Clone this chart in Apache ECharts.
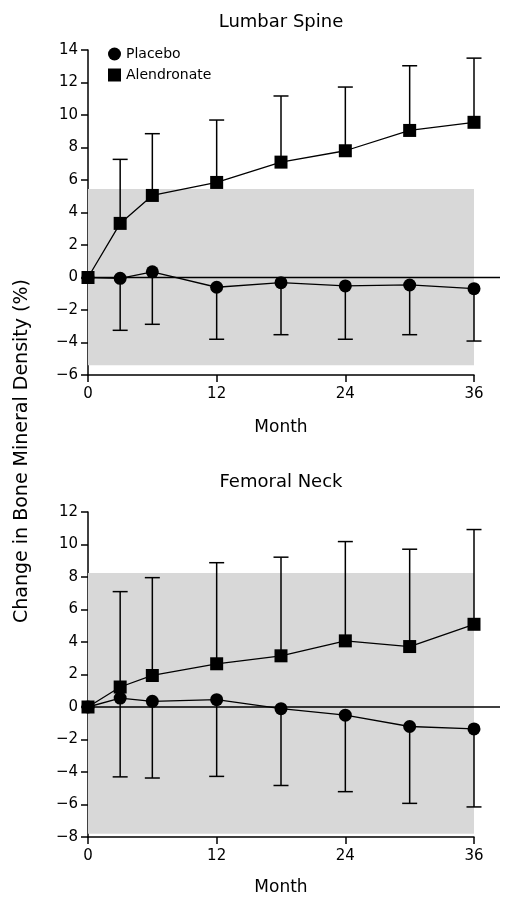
<!DOCTYPE html>
<html>
<head>
<meta charset="utf-8">
<script src="https://cdn.jsdelivr.net/npm/echarts@6/dist/echarts.min.js"></script>
<style>
html,body{margin:0;padding:0;background:#fff;}
#chart{width:508px;height:897px;}
</style>
</head>
<body>
<div id="chart"></div>
<script>
const months = [0, 3, 6, 12, 18, 24, 30, 36];
const xTicks = [0, 12, 24, 36];

const lumbarPlacebo = [0, -0.05, 0.35, -0.6, -0.32, -0.52, -0.46, -0.69];
const lumbarPlaceboLower = [null, -3.25, -2.88, -3.8, -3.52, -3.8, -3.52, -3.91];
const lumbarAlendronate = [0, 3.33, 5.05, 5.85, 7.1, 7.8, 9.05, 9.55];
const lumbarAlendronateUpper = [null, 7.27, 8.85, 9.69, 11.17, 11.72, 13.03, 13.5];

const femoralPlacebo = [0, 0.55, 0.35, 0.45, -0.1, -0.5, -1.2, -1.35];
const femoralPlaceboLower = [null, -4.3, -4.37, -4.27, -4.83, -5.21, -5.93, -6.15];
const femoralAlendronate = [0, 1.23, 1.94, 2.66, 3.15, 4.07, 3.72, 5.09];
const femoralAlendronateUpper = [null, 7.1, 7.96, 8.88, 9.22, 10.18, 9.71, 10.92];

const panelTitles = ['Lumbar Spine', 'Femoral Neck'];
const xAxisName = 'Month';
const yAxisName = 'Change in Bone Mineral Density (%)';
const seriesNames = ['Placebo', 'Alendronate'];

const FONT = 'DejaVu Sans';
const chart = echarts.init(document.getElementById('chart'), null, {renderer: 'canvas'});

function pairs(xs, ys) { return xs.map((x, i) => [x, ys[i]]); }
function errData(xs, ys, ends) {
  const out = [];
  xs.forEach((x, i) => { if (ends[i] !== null) out.push([x, ys[i], ends[i]]); });
  return out;
}
function errorSeries(gi, data) {
  return {
    type: 'custom', xAxisIndex: gi, yAxisIndex: gi, z: 3, silent: true,
    data: data,
    encode: {x: 0, y: [1, 2]},
    renderItem: function (params, api) {
      const p0 = api.coord([api.value(0), api.value(1)]);
      const p1 = api.coord([api.value(0), api.value(2)]);
      const hw = 7.5;
      return {
        type: 'group',
        children: [
          {type: 'line', shape: {x1: p0[0], y1: p0[1], x2: p1[0], y2: p1[1]}, style: {stroke: '#000', lineWidth: 1.5}},
          {type: 'line', shape: {x1: p1[0] - hw, y1: p1[1], x2: p1[0] + hw, y2: p1[1]}, style: {stroke: '#000', lineWidth: 1.5}}
        ]
      };
    }
  };
}
function lineSeries(gi, name, symbol, data, area) {
  const s = {
    type: 'line', name: name, xAxisIndex: gi, yAxisIndex: gi,
    data: data, symbol: symbol, symbolSize: 13, z: 4,
    lineStyle: {color: '#000', width: 1.3},
    itemStyle: {color: '#000'},
    animation: false
  };
  if (area) {
    s.markArea = {
      silent: true,
      itemStyle: {color: '#d8d8d8'},
      data: [[{coord: [0, area[0]]}, {coord: [36, area[1]]}]]
    };
  }
  return s;
}
const axisTextStyle = {color: '#000', fontFamily: FONT, fontSize: 15};
function xAx(gi, gap) {
  return {
    type: 'value', gridIndex: gi, min: 0, max: 36, interval: 12,
    axisLine: {onZero: false, lineStyle: {color: '#000', width: 1.5}},
    axisTick: {length: 7, lineStyle: {color: '#000', width: 1.5}},
    axisLabel: Object.assign({margin: 12}, axisTextStyle),
    splitLine: {show: false},
    name: xAxisName, nameLocation: 'middle', nameGap: gap,
    nameTextStyle: {color: '#000', fontFamily: FONT, fontSize: 17}
  };
}
function yAx(gi, min, max) {
  return {
    type: 'value', gridIndex: gi, min: min, max: max, interval: 2,
    axisLine: {onZero: false, lineStyle: {color: '#000', width: 1.5}},
    axisTick: {length: 7, lineStyle: {color: '#000', width: 1.5}},
    axisLabel: Object.assign({margin: 10, formatter: v => v < 0 ? '\u2212' + (-v) : String(v)}, axisTextStyle),
    splitLine: {show: false}
  };
}

const option = {
  animation: false,
  backgroundColor: '#fff',
  grid: [
    {left: 88, top: 50, width: 386, height: 325},
    {left: 88, top: 512, width: 386, height: 326}
  ],
  xAxis: [xAx(0, 44), xAx(1, 42)],
  yAxis: [yAx(0, -6, 14), yAx(1, -8, 12)],
  legend: {
    left: 103, top: 42, orient: 'vertical', itemGap: 7,
    itemWidth: 13, itemHeight: 13,
    textStyle: {color: '#000', fontFamily: FONT, fontSize: 14},
    data: [{name: seriesNames[0], icon: 'circle'}, {name: seriesNames[1], icon: 'rect'}],
    selectedMode: false
  },
  series: [
    lineSeries(0, seriesNames[0], 'circle', pairs(months, lumbarPlacebo), [-5.4, 5.45]),
    lineSeries(0, seriesNames[1], 'rect', pairs(months, lumbarAlendronate)),
    errorSeries(0, errData(months, lumbarPlacebo, lumbarPlaceboLower)),
    errorSeries(0, errData(months, lumbarAlendronate, lumbarAlendronateUpper)),
    lineSeries(1, seriesNames[0], 'circle', pairs(months, femoralPlacebo), [-7.8, 8.25]),
    lineSeries(1, seriesNames[1], 'rect', pairs(months, femoralAlendronate)),
    errorSeries(1, errData(months, femoralPlacebo, femoralPlaceboLower)),
    errorSeries(1, errData(months, femoralAlendronate, femoralAlendronateUpper))
  ]
};
chart.setOption(option);

// Reference elements placed from the axes' own scales
const z0 = chart.convertToPixel({gridIndex: 0}, [0, 0]);
const z1 = chart.convertToPixel({gridIndex: 1}, [0, 0]);
const c0 = chart.convertToPixel({gridIndex: 0}, [18, 14]);
const c1 = chart.convertToPixel({gridIndex: 1}, [18, 12]);
chart.setOption({
  graphic: [
    {type: 'line', z: 5, shape: {x1: z0[0], y1: z0[1], x2: 500, y2: z0[1]}, style: {stroke: '#000', lineWidth: 1.5}},
    {type: 'line', z: 5, shape: {x1: z1[0], y1: z1[1], x2: 500, y2: z1[1]}, style: {stroke: '#000', lineWidth: 1.5}},
    {type: 'text', x: c0[0], y: 22, style: {text: panelTitles[0], fill: '#000', font: '18px "DejaVu Sans"', textAlign: 'center', textVerticalAlign: 'middle'}},
    {type: 'text', x: c1[0], y: 482, style: {text: panelTitles[1], fill: '#000', font: '18px "DejaVu Sans"', textAlign: 'center', textVerticalAlign: 'middle'}},
    {type: 'text', x: 22, y: 451, rotation: Math.PI / 2, style: {text: yAxisName, fill: '#000', font: '19px "DejaVu Sans"', textAlign: 'center', textVerticalAlign: 'middle'}}
  ]
});
</script>
</body>
</html>
